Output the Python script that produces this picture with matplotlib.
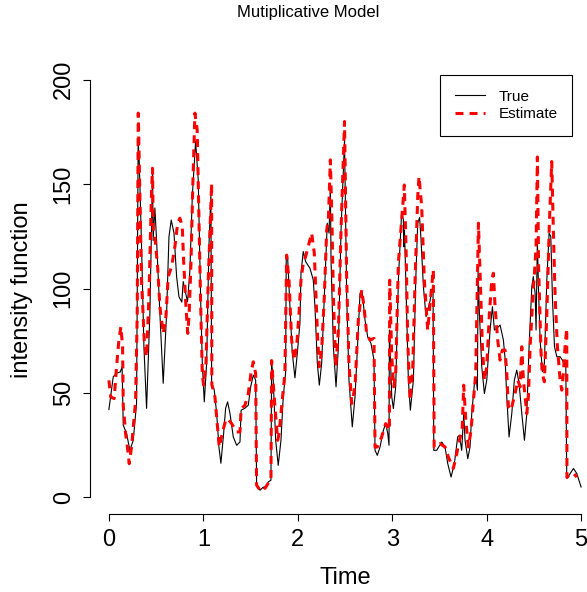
import numpy as np
import matplotlib
matplotlib.use("Agg")
import matplotlib.pyplot as plt

plt.rcParams['font.family'] = 'Liberation Sans'

# True intensity
true_x = [0.00, 0.046, 0.08, 0.12, 0.14, 0.152, 0.187, 0.222, 0.258, 0.293, 0.31, 0.322, 0.346, 0.371,
          0.399, 0.434, 0.455, 0.463, 0.468, 0.487, 0.505, 0.54, 0.575, 0.611, 0.636, 0.66, 0.689, 0.717,
          0.742, 0.772, 0.787, 0.805, 0.833, 0.858, 0.883, 0.918, 0.946, 0.971, 0.989, 1.01, 1.035, 1.059,
          1.08, 1.088, 1.116, 1.141, 1.165, 1.186, 1.215, 1.236, 1.257, 1.282, 1.317, 1.353, 1.388, 1.40,
          1.441, 1.476, 1.501, 1.529, 1.554, 1.564, 1.60, 1.635, 1.653, 1.688, 1.716, 1.723, 1.74, 1.766,
          1.793, 1.822, 1.846, 1.871, 1.878, 1.893, 1.917, 1.942, 1.97, 1.995, 2.023, 2.034, 2.058, 2.083,
          2.129, 2.164, 2.182, 2.207, 2.228, 2.253, 2.288, 2.312, 2.331, 2.345, 2.352, 2.377, 2.405, 2.43,
          2.458, 2.495, 2.518, 2.542, 2.577, 2.606, 2.641, 2.659, 2.683, 2.712, 2.74, 2.775, 2.807, 2.818,
          2.842, 2.871, 2.906, 2.931, 2.953, 2.966, 2.97, 2.995, 3.012, 3.037, 3.065, 3.10, 3.118, 3.124,
          3.13, 3.153, 3.171, 3.192, 3.224, 3.249, 3.27, 3.29, 3.305, 3.33, 3.358, 3.40, 3.432, 3.44,
          3.471, 3.524, 3.559, 3.588, 3.623, 3.658, 3.693, 3.711, 3.736, 3.757, 3.771, 3.80, 3.824, 3.842,
          3.87, 3.888, 3.902, 3.909, 3.923, 3.948, 3.976, 4.001, 4.036, 4.061, 4.082, 4.107, 4.142, 4.177,
          4.195, 4.213, 4.237, 4.266, 4.293, 4.319, 4.343, 4.372, 4.40, 4.425, 4.449, 4.478, 4.494, 4.513,
          4.523, 4.537, 4.548, 4.566, 4.59, 4.611, 4.637, 4.661, 4.679, 4.696, 4.718, 4.743, 4.778, 4.802,
          4.823, 4.838, 4.848, 4.873, 4.919, 4.954, 5.0]
true_y = [42, 57.7, 59.5, 60, 62.5, 34.5, 30.7, 22.5, 27.3, 45, 170.4, 160, 120, 72,
          42.6, 88, 140, 157, 123, 138.6, 123, 88, 54.6, 88, 124.8, 132.8, 126.6, 105.7,
          96, 93.5, 103.3, 99.3, 93.7, 108.9, 144, 170.4, 152, 96, 64.2, 45.7, 64.2, 120,
          144.8, 54.6, 51.3, 40.2, 24.1, 16.3, 30.7, 42.7, 45.7, 40.2, 28.9, 24.9, 26.5, 41.7,
          42.7, 44.1, 52.9, 58.5, 56.1, 5.8, 3.4, 4.9, 4.3, 7.4, 8.2, 64.9, 56.1, 27.3,
          15.3, 27.3, 48.1, 59.5, 115.3, 114.5, 91.3, 69, 57.2, 69, 83.4, 107.4, 117.7, 112.9,
          109.7, 104.1, 91.3, 64.2, 53.7, 64.2, 104.1, 131.3, 126.5, 148.8, 113.7, 72.1, 52.9, 72.1,
          128, 171, 96, 56.1, 33.7, 48.1, 80.1, 97.7, 97.7, 84.9, 76.9, 73.7, 65.7, 22.5,
          20.1, 24.1, 32.1, 35.3, 30.5, 24.9, 80.1, 48.1, 42.5, 52.9, 104.1, 136.8, 132.9, 120,
          128, 88.1, 56.1, 41.7, 56.1, 104.1, 131.3, 134, 123.3, 100.9, 86.5, 94, 101.7, 22.5,
          22.5, 26.5, 24.1, 16.1, 9.7, 16.1, 28.9, 29.7, 22.5, 40.1, 27.3, 18.5, 24.1, 40.1,
          54.5, 56.9, 51.3, 108.1, 88.1, 62.5, 49.7, 56.1, 80.1, 91.3, 80.1, 80.9, 82.5, 75.3,
          66.5, 48.1, 28.9, 40.1, 56.1, 60.9, 54.5, 40.1, 27.3, 40.1, 72.1, 100.9, 105.7, 97.7,
          80.1, 123.3, 100.9, 75.3, 60.1, 64.1, 104.1, 126.5, 124.9, 96, 72.1, 67.3, 67.3, 65.7,
          63.3, 62.5, 9, 10.6, 13.8, 11.4, 4.9]

# Estimated intensity
est_x = [0.0, 0.02, 0.056, 0.081, 0.106, 0.127, 0.145, 0.152, 0.177, 0.205, 0.215, 0.24, 0.283, 0.30,
         0.311, 0.325, 0.346, 0.374, 0.399, 0.424, 0.452, 0.462, 0.47, 0.487, 0.516, 0.54, 0.575, 0.604,
         0.628, 0.664, 0.699, 0.728, 0.752, 0.777, 0.791, 0.816, 0.835, 0.85, 0.869, 0.89, 0.911, 0.935,
         0.953, 0.97, 0.989, 1.003, 1.028, 1.052, 1.077, 1.088, 1.09, 1.123, 1.147, 1.168, 1.2, 1.236,
         1.257, 1.3, 1.353, 1.388, 1.40, 1.441, 1.476, 1.504, 1.529, 1.554, 1.564, 1.60, 1.635, 1.653,
         1.705, 1.716, 1.723, 1.75, 1.787, 1.80, 1.836, 1.864, 1.882, 1.907, 1.935, 1.963, 1.988, 2.013,
         2.034, 2.058, 2.083, 2.119, 2.147, 2.175, 2.193, 2.211, 2.228, 2.253, 2.281, 2.306, 2.324, 2.345,
         2.36, 2.377, 2.402, 2.43, 2.458, 2.495, 2.518, 2.542, 2.571, 2.606, 2.641, 2.677, 2.701, 2.729,
         2.765, 2.807, 2.818, 2.842, 2.888, 2.931, 2.97, 2.973, 2.995, 3.016, 3.037, 3.065, 3.10, 3.128,
         3.146, 3.164, 3.189, 3.217, 3.242, 3.27, 3.284, 3.312, 3.34, 3.376, 3.405, 3.435, 3.444, 3.471,
         3.506, 3.559, 3.594, 3.647, 3.683, 3.711, 3.74, 3.757, 3.779, 3.806, 3.835, 3.86, 3.884, 3.902,
         3.913, 3.93, 3.955, 3.976, 4.001, 4.029, 4.054, 4.071, 4.089, 4.117, 4.142, 4.166, 4.195, 4.213,
         4.23, 4.258, 4.283, 4.301, 4.33, 4.354, 4.372, 4.389, 4.407, 4.425, 4.442, 4.46, 4.489, 4.506,
         4.523, 4.537, 4.55, 4.575, 4.589, 4.611, 4.637, 4.664, 4.689, 4.706, 4.725, 4.749, 4.778, 4.795,
         4.812, 4.83, 4.848, 4.85, 4.873, 4.92, 4.955]
est_y = [56, 48, 47.3, 62.5, 75.3, 81.7, 72.1, 44, 30.5, 20.9, 16.1, 24.1, 46.5, 88.1,
         184, 152, 104, 75.3, 67.3, 96, 147.2, 157.6, 128, 124.8, 110.5, 91.3, 78.5, 86.5,
         105.7, 110.5, 120, 131.3, 133.7, 129.7, 113.7, 91.3, 78.5, 88, 112.1, 152, 184, 176,
         136, 96, 59.3, 53.7, 64.1, 104, 136, 150.4, 54, 48.1, 35.3, 24.1, 30.5, 36.9,
         37.7, 35.3, 31.3, 31.3, 42.5, 44.1, 49.7, 59.3, 64.9, 59.3, 5.8, 3.4, 4.9, 4.3,
         8, 8.2, 65.5, 48.1, 27.3, 30, 46.5, 59.5, 116, 104, 75.3, 65.7, 72.1, 88.1,
         104, 112.1, 115.3, 121.7, 126.5, 116.9, 96, 75.3, 62.5, 70.5, 96, 128, 132.9, 161.6,
         136, 96, 62.5, 80.1, 128, 180, 104, 64.1, 44.9, 52.9, 84.9, 99.3, 91.3, 78.5,
         75.3, 76.1, 24, 24.1, 28.9, 35.3, 32.1, 104, 67.3, 52.9, 59.3, 112.1, 132.9, 149.6,
         120, 75.3, 46.5, 60.9, 104, 144, 153.6, 139.2, 104, 80, 95, 108.9, 24, 25,
         25.7, 24.1, 19.3, 13.8, 20.9, 27.3, 32, 53.7, 36.9, 24.1, 32.1, 46.5, 59.3, 104,
         131.3, 107.3, 72.1, 56.1, 62.5, 88.1, 104, 107.3, 91.3, 75.3, 65.7, 70.5, 70.5, 59,
         43.3, 41.7, 46.5, 49.7, 56.1, 52.9, 72.1, 56.1, 48.1, 40.1, 48.1, 72.1, 96, 107.3,
         120, 163, 110, 70, 59.3, 55.3, 88.1, 131.3, 160.8, 128, 96, 72.1, 56.1, 51.3,
         59.3, 72.1, 80.9, 9.5, 10.6, 11.4, 9.7]

x_ticks = [0, 1, 2, 3, 4, 5]
y_ticks = [0, 50, 100, 150, 200]

W, H = 587, 592
fig = plt.figure(figsize=(W / 100, H / 100), dpi=100)
ax = fig.add_axes([90 / W, 1 - 514 / H, 510 / W, (514 - 63) / H])

ax.plot(true_x, true_y, color='black', lw=0.8, label='True')
ax.plot(est_x, est_y, color='red', lw=2.2, dashes=(2.6, 2.0), label='Estimate')

ax.set_xlim(-0.2, 5.2)
ax.set_ylim(-8, 208)
ax.spines['top'].set_visible(False)
ax.spines['right'].set_visible(False)
ax.spines['left'].set_bounds(0, 200)
ax.spines['bottom'].set_bounds(0, 5)
ax.spines['left'].set_linewidth(0.8)
ax.spines['bottom'].set_linewidth(0.8)
ax.set_xticks(x_ticks)
ax.set_yticks(y_ticks)
ax.tick_params(length=5, width=0.8, labelsize=17, pad=6)
ax.tick_params(axis='y', labelrotation=90)
for lab in ax.get_yticklabels():
    lab.set_va('center')

ax.set_xlabel('Time', fontsize=17)
ax.xaxis.set_label_coords(0.5, -0.142)
ax.xaxis.label.set_va('center')
ax.set_ylabel('intensity function', fontsize=17)
ax.yaxis.set_label_coords(-0.133, 0.497)
ax.yaxis.label.set_va('center')

fig.text(308 / W, 1 - 12 / H, 'Mutiplicative Model', ha='center', va='center', fontsize=12)

leg = ax.legend(loc='upper left', bbox_to_anchor=(440 / W, 1 - 75 / H), bbox_transform=fig.transFigure,
                fontsize=11, frameon=True, fancybox=False, edgecolor='black', framealpha=1,
                borderaxespad=0, borderpad=0.95, labelspacing=0.25,
                handlelength=2, handletextpad=0.9)
leg.get_frame().set_linewidth(0.8)

fig.savefig('out.png', dpi=100)
